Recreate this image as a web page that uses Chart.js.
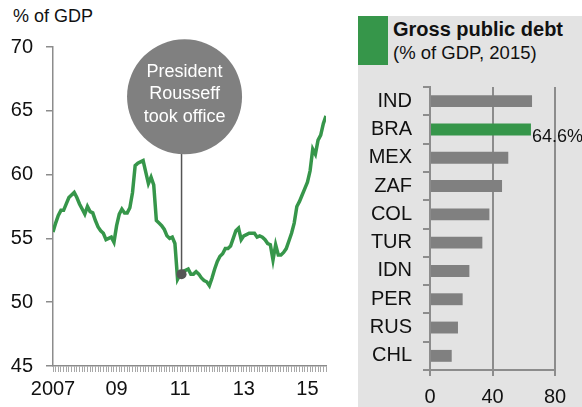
<!DOCTYPE html>
<html>
<head>
<meta charset="utf-8">
<script src="https://cdn.jsdelivr.net/npm/chart.js@4/dist/chart.umd.min.js"></script>
<style>
  html, body { margin: 0; padding: 0; background: #fff; }
  body { width: 582px; height: 407px; position: relative; overflow: hidden;
         font-family: "Liberation Sans", Arial, sans-serif; color: #111; }
  #unit { position: absolute; left: 13px; top: 6px; font-size: 18px; }
  #left { position: absolute; left: 0; top: 0; }
  #panel { position: absolute; left: 358px; top: 16px; width: 224px; height: 391px; background: #e3e3e3; }
  #swatch { position: absolute; left: 358px; top: 16px; width: 30px; height: 49px; background: #36964a; }
  #title { position: absolute; left: 393px; top: 18px; font-size: 20px; font-weight: bold; white-space: nowrap; }
  #subtitle { position: absolute; left: 393px; top: 42px; font-size: 18.5px; white-space: nowrap; }
  #right { position: absolute; left: 350px; top: 0; }
</style>
</head>
<body>
<div id="panel"></div>
<div id="swatch"></div>
<div id="title">Gross public debt</div>
<div id="subtitle">(% of GDP, 2015)</div>
<div id="unit">% of GDP</div>
<canvas id="left" width="345" height="407"></canvas>
<canvas id="right" width="232" height="407"></canvas>
<script>
// Brazil gross public debt, % of GDP, monthly from Jan 2007
const debtSeries = [
  55.5, 56.2, 56.8, 57.2, 57.2, 57.7, 58.2, 58.4, 58.6, 58.2, 57.7, 57.3,
  56.9, 57.5, 57.1, 57.0, 56.4, 55.9, 55.6, 55.4, 54.9, 55.0, 55.1, 54.7,
  56.0, 56.9, 57.3, 57.0, 57.0, 57.4, 58.6, 60.7, 60.9, 61.0, 61.1, 60.2,
  59.3, 59.8, 59.2, 56.4, 56.2, 56.0, 55.7, 55.2, 55.0, 55.1, 54.6, 51.8,
  52.2, 52.4, 52.5, 52.6, 52.2, 52.2, 52.4, 52.2, 51.9, 51.7, 51.6, 51.3,
  51.9, 52.6, 53.2, 53.6, 53.8, 54.2, 54.2, 54.4, 55.0, 55.6, 55.8, 54.9,
  55.2, 55.3, 55.4, 55.4, 55.4, 55.1, 55.2, 55.1, 54.9, 54.6, 54.5, 53.3,
  54.5, 53.7, 53.7, 53.9, 54.2, 54.8, 55.4, 56.2, 57.5, 57.9, 58.4, 58.9,
  59.4, 60.3, 62.0, 61.6, 62.7, 63.1, 64.0, 64.6
];
const yearLabels = ["2007", "09", "11", "13", "15"];
const officeMark = { x: 48.5, y: 52.2 };
const officeText = ["President", "Rousseff", "took office"];

const countries = ["IND", "BRA", "MEX", "ZAF", "COL", "TUR", "IDN", "PER", "RUS", "CHL"];
const debt2015 = [65.3, 64.6, 50.1, 46.1, 38.0, 33.5, 25.2, 20.9, 17.9, 13.9];
const highlight = "BRA";

const FONT = '"Liberation Sans", Arial, sans-serif';
const GREEN = "#36964a";
const AXIS = "#8c8c8c";
const INK = "#111";

const calloutPlugin = {
  id: "callout",
  beforeDatasetsDraw(chart) {
    const ctx = chart.ctx;
    const pt = chart.getDatasetMeta(0).data[0];
    const cx = pt.x + 3;
    const cy = chart.scales.y.getPixelForValue(66.1);
    const r = 57.5;
    ctx.save();
    ctx.beginPath();
    ctx.strokeStyle = "#555";
    ctx.lineWidth = 1.5;
    ctx.moveTo(pt.x, cy + r - 6);
    ctx.lineTo(pt.x, pt.y);
    ctx.stroke();
    ctx.beginPath();
    ctx.fillStyle = "#808080";
    ctx.arc(cx, cy, r, 0, Math.PI * 2);
    ctx.fill();
    ctx.fillStyle = "#fff";
    ctx.font = `18px ${FONT}`;
    ctx.textAlign = "center";
    ctx.textBaseline = "middle";
    officeText.forEach((t, i) => ctx.fillText(t, cx, cy - 25 + i * 22.5));
    ctx.restore();
  },
};

new Chart(document.getElementById("left"), {
  type: "scatter",
  data: {
    datasets: [
      {
        data: [officeMark],
        pointRadius: 5,
        pointBackgroundColor: "#555",
        pointBorderWidth: 0,
      },
      {
        data: debtSeries.map((v, i) => ({ x: i, y: v })),
        showLine: true,
        borderColor: GREEN,
        borderWidth: 3.5,
        pointRadius: 0,
        tension: 0,
      },
    ],
  },
  options: {
    responsive: false,
    animation: false,
    events: [],
    layout: { padding: { top: 47, right: 19, left: 0, bottom: 0 } },
    plugins: { legend: { display: false }, tooltip: { enabled: false } },
    scales: {
      x: {
        type: "linear",
        min: 0,
        max: 103,
        afterFit: (s) => { s.height = 41; },
        border: { color: AXIS, width: 1.5 },
        grid: { drawOnChartArea: false, tickLength: 6, tickColor: "#a8a8a8", lineWidth: 1 },
        ticks: {
          stepSize: 1,
          autoSkip: false,
          maxRotation: 0,
          padding: 5,
          color: INK,
          font: { family: FONT, size: 20 },
          callback: (v) => (v % 24 === 0 ? yearLabels[v / 24] : ""),
        },
      },
      y: {
        min: 45,
        max: 70,
        afterFit: (s) => { s.width = 53; },
        border: { color: AXIS, width: 1.5 },
        grid: { drawOnChartArea: false, tickLength: 7, tickColor: AXIS, lineWidth: 1.5 },
        ticks: { stepSize: 5, padding: 13, color: INK, font: { family: FONT, size: 20 } },
      },
    },
  },
  plugins: [calloutPlugin],
});

const valueLabelPlugin = {
  id: "valueLabel",
  afterDatasetsDraw(chart) {
    const idx = countries.indexOf(highlight);
    const bar = chart.getDatasetMeta(0).data[idx];
    const ctx = chart.ctx;
    ctx.save();
    ctx.fillStyle = INK;
    ctx.font = `18px ${FONT}`;
    ctx.textAlign = "left";
    ctx.textBaseline = "middle";
    ctx.fillText(debt2015[idx].toFixed(1) + "%", bar.x + 1, bar.y + 8);
    ctx.restore();
  },
};

new Chart(document.getElementById("right"), {
  type: "bar",
  data: {
    labels: countries,
    datasets: [{
      data: debt2015,
      backgroundColor: countries.map((c) => (c === highlight ? GREEN : "#808080")),
      barPercentage: 0.42,
      categoryPercentage: 1,
    }],
  },
  options: {
    indexAxis: "y",
    responsive: false,
    animation: false,
    events: [],
    layout: { padding: { top: 87, right: 27, left: 0, bottom: 0 } },
    plugins: { legend: { display: false }, tooltip: { enabled: false } },
    scales: {
      x: {
        min: 0,
        max: 80,
        afterFit: (s) => { s.height = 37; },
        border: { color: AXIS, width: 2 },
        grid: { color: AXIS, lineWidth: 2, tickLength: 6 },
        ticks: { stepSize: 40, padding: 9, color: INK, font: { family: FONT, size: 20 } },
      },
      y: {
        afterFit: (s) => { s.width = 80; },
        border: { color: AXIS, width: 2 },
        grid: { drawOnChartArea: false, tickLength: 7, tickColor: AXIS, lineWidth: 2 },
        ticks: { padding: 11, color: INK, font: { family: FONT, size: 20 } },
      },
    },
  },
  plugins: [valueLabelPlugin],
});
</script>
</body>
</html>
